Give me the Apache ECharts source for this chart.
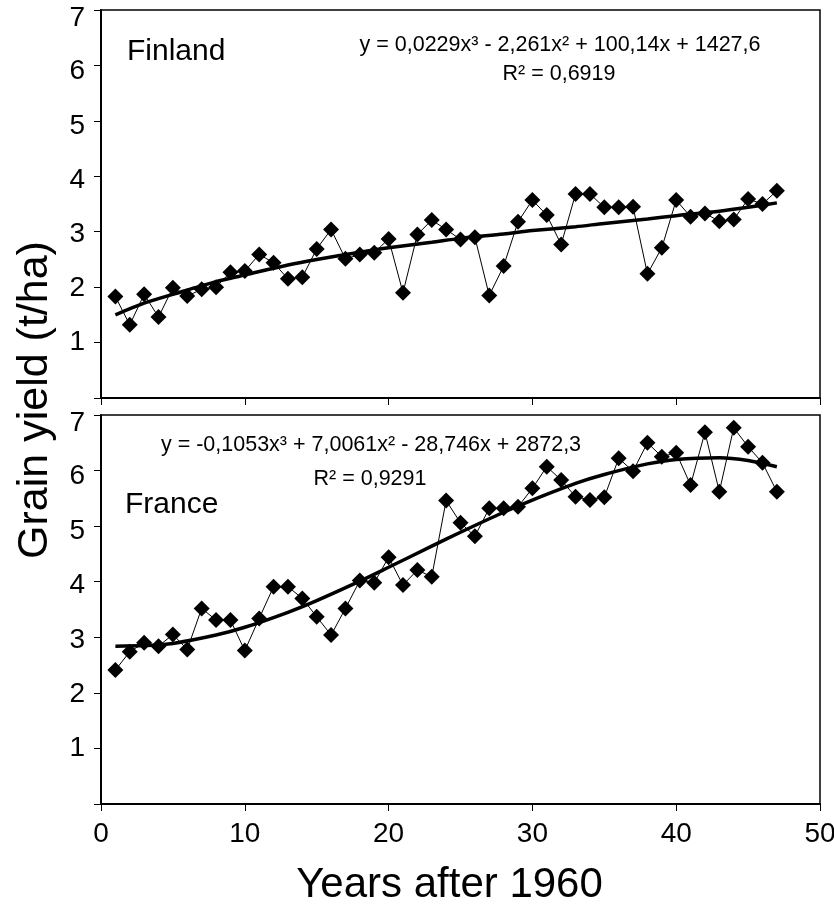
<!DOCTYPE html>
<html>
<head>
<meta charset="utf-8">
<script src="https://cdn.jsdelivr.net/npm/echarts@6/dist/echarts.min.js"></script>
<style>
  html, body { margin: 0; padding: 0; background: #fff; }
  #chart { width: 834px; height: 906px; }
</style>
</head>
<body>
<div id="chart"></div>
<script>
// years after 1960
const years = [1, 2, 3, 4, 5, 6, 7, 8, 9, 10, 11, 12, 13, 14, 15, 16, 17, 18, 19, 20,
  21, 22, 23, 24, 25, 26, 27, 28, 29, 30, 31, 32, 33, 34, 35, 36, 37, 38, 39, 40,
  41, 42, 43, 44, 45, 46, 47];
// grain yield, t/ha
const finland = [1.83, 1.32, 1.87, 1.46, 1.99, 1.84, 1.96, 2.00, 2.27, 2.29, 2.59, 2.44,
  2.15, 2.18, 2.69, 3.04, 2.51, 2.59, 2.62, 2.87, 1.90, 2.95, 3.21, 3.04, 2.86, 2.90,
  1.85, 2.38, 3.18, 3.57, 3.30, 2.77, 3.68, 3.68, 3.44, 3.44, 3.45, 2.24, 2.71, 3.57,
  3.27, 3.33, 3.19, 3.22, 3.59, 3.50, 3.74];
const france = [2.41, 2.74, 2.90, 2.84, 3.05, 2.78, 3.52, 3.31, 3.31, 2.76, 3.34, 3.91,
  3.91, 3.70, 3.37, 3.04, 3.52, 4.02, 3.98, 4.44, 3.94, 4.21, 4.09, 5.46, 5.06, 4.82,
  5.32, 5.32, 5.35, 5.68, 6.07, 5.83, 5.53, 5.47, 5.52, 6.22, 5.99, 6.50, 6.25, 6.32,
  5.74, 6.69, 5.62, 6.77, 6.43, 6.14, 5.62];
// trend lines
const trendYears = [1, 3, 5, 8, 10, 13, 15, 18, 20, 23, 25, 28, 30, 33, 35, 38, 40, 43, 45, 47];
const finlandTrend = [1.50, 1.71, 1.87, 2.10, 2.22, 2.40, 2.50, 2.63, 2.71, 2.81, 2.88,
  2.96, 3.02, 3.09, 3.15, 3.23, 3.29, 3.37, 3.44, 3.52];
const franceTrend = [2.84, 2.85, 2.89, 3.04, 3.18, 3.45, 3.66, 4.01, 4.26, 4.64, 4.89,
  5.25, 5.47, 5.77, 5.93, 6.12, 6.20, 6.23, 6.18, 6.07];

const finlandEq = 'y = 0,0229x³ - 2,261x² + 100,14x + 1427,6';
const finlandR2 = 'R² = 0,6919';
const franceEq = 'y = -0,1053x³ + 7,0061x² - 28,746x + 2872,3';
const franceR2 = 'R² = 0,9291';

const FONT = '"Liberation Sans", Arial, sans-serif';

function pairs(xs, ys) {
  return xs.map(function (x, i) { return [x, ys[i]]; });
}

// the y labels in the original sit a little below their ticks, more so near the top
const labelDrop = { 1: 0, 2: 1, 3: 3, 4: 4, 5: 5, 6: 6, 7: 8 };
const yRich = {};
Object.keys(labelDrop).forEach(function (k) {
  yRich['s' + k] = { padding: [labelDrop[k] * 2, 0, 0, 0], fontSize: 28, fontFamily: FONT, color: '#000' };
});

const chart = echarts.init(document.getElementById('chart'));

function xAxisCfg(gridIndex, withLabels) {
  return {
    type: 'value',
    gridIndex: gridIndex,
    min: 0,
    max: 50,
    interval: 10,
    axisLine: { show: true, lineStyle: { color: '#000', width: 2 } },
    axisTick: { show: true, inside: false, length: 7, lineStyle: { color: '#000', width: 1 } },
    axisLabel: {
      show: withLabels,
      color: '#000',
      fontSize: 28,
      fontFamily: FONT,
      margin: 16
    },
    splitLine: { show: false },
    name: withLabels ? 'Years after 1960' : '',
    nameLocation: 'middle',
    nameGap: 60,
    nameTextStyle: { color: '#000', fontSize: 42, fontFamily: FONT, padding: [0, 22, 0, 0] }
  };
}

function yAxisCfg(gridIndex) {
  return {
    type: 'value',
    gridIndex: gridIndex,
    min: 0,
    max: 7,
    interval: 1,
    axisLine: { show: true, lineStyle: { color: '#000', width: 2 } },
    axisTick: { show: true, inside: false, length: 7, lineStyle: { color: '#000', width: 1 } },
    axisLabel: {
      color: '#000',
      fontSize: 28,
      fontFamily: FONT,
      margin: 16,
      formatter: function (v) { return v === 0 ? '' : '{s' + v + '|' + v + '}'; },
      rich: yRich
    },
    splitLine: { show: false }
  };
}

const option = {
  animation: false,
  backgroundColor: '#fff',
  grid: [
    { left: 101, right: 14, top: 10, height: 388, outerBoundsMode: 'none', show: true, borderColor: '#000', borderWidth: 1.5 },
    { left: 101, right: 14, top: 415, height: 389, outerBoundsMode: 'none', show: true, borderColor: '#000', borderWidth: 1.5 }
  ],
  xAxis: [xAxisCfg(0, false), xAxisCfg(1, true)],
  yAxis: [yAxisCfg(0), yAxisCfg(1)],
  graphic: [
    {
      type: 'text', x: 35, y: 400, rotation: Math.PI / 2,
      style: { text: 'Grain yield (t/ha)', fill: '#000', font: '43px ' + FONT, align: 'center', verticalAlign: 'middle' }
    },
    {
      type: 'text', x: 127, y: 52,
      style: { text: 'Finland', fill: '#000', font: '30px ' + FONT, align: 'left', verticalAlign: 'middle' }
    },
    {
      type: 'text', x: 560, y: 45,
      style: { text: finlandEq, fill: '#000', font: '21.5px ' + FONT, align: 'center', verticalAlign: 'middle' }
    },
    {
      type: 'text', x: 559, y: 74,
      style: { text: finlandR2, fill: '#000', font: '21.5px ' + FONT, align: 'center', verticalAlign: 'middle' }
    },
    {
      type: 'text', x: 125, y: 505,
      style: { text: 'France', fill: '#000', font: '30px ' + FONT, align: 'left', verticalAlign: 'middle' }
    },
    {
      type: 'text', x: 371, y: 445,
      style: { text: franceEq, fill: '#000', font: '21.5px ' + FONT, align: 'center', verticalAlign: 'middle' }
    },
    {
      type: 'text', x: 370, y: 479,
      style: { text: franceR2, fill: '#000', font: '21.5px ' + FONT, align: 'center', verticalAlign: 'middle' }
    }
  ],
  series: [
    {
      name: 'Finland',
      type: 'line',
      xAxisIndex: 0,
      yAxisIndex: 0,
      data: pairs(years, finland),
      symbol: 'diamond',
      symbolSize: 16,
      itemStyle: { color: '#000' },
      lineStyle: { color: '#000', width: 1 },
      z: 3
    },
    {
      name: 'Finland trend',
      type: 'line',
      xAxisIndex: 0,
      yAxisIndex: 0,
      data: pairs(trendYears, finlandTrend),
      smooth: 0.3,
      showSymbol: false,
      lineStyle: { color: '#000', width: 3.5 },
      z: 4
    },
    {
      name: 'France',
      type: 'line',
      xAxisIndex: 1,
      yAxisIndex: 1,
      data: pairs(years, france),
      symbol: 'diamond',
      symbolSize: 16,
      itemStyle: { color: '#000' },
      lineStyle: { color: '#000', width: 1 },
      z: 3
    },
    {
      name: 'France trend',
      type: 'line',
      xAxisIndex: 1,
      yAxisIndex: 1,
      data: pairs(trendYears, franceTrend),
      smooth: 0.3,
      showSymbol: false,
      lineStyle: { color: '#000', width: 3.5 },
      z: 4
    }
  ]
};

chart.setOption(option);
</script>
</body>
</html>
